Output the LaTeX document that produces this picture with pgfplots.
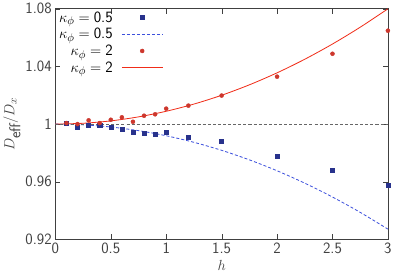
\documentclass[border=0pt]{standalone}
\usepackage{pgfplots}
\pgfplotsset{compat=1.18}
\renewcommand{\familydefault}{\sfdefault}
\definecolor{bluept}{RGB}{40,50,140}
\definecolor{blueln}{RGB}{60,80,220}
\definecolor{redpt}{RGB}{205,55,45}
\definecolor{redln}{RGB}{240,45,25}
\pgfplotsset{
  markleg/.style={legend image code/.code={\draw[##1] plot coordinates {(20bp,0bp)};}},
  blueleg/.style={legend image code/.code={\draw[blueln, densely dashed, thick] (0bp,0bp) -- (40bp,0bp);}},
  redleg/.style={legend image code/.code={\draw[redln, thick] (0bp,0bp) -- (40bp,0bp);}},
}
\begin{document}
\begin{tikzpicture}
\begin{axis}[
  scale only axis,
  width=326bp, height=226bp,
  xmin=0, xmax=3, ymin=0.92, ymax=1.08,
  xtick={0,0.5,1,1.5,2,2.5,3},
  ytick={0.92,0.96,1,1.04,1.08},
  tick align=inside,
  major tick length=5bp,
  axis line style={black!75, line width=0.8pt},
  tick style={black!75},
  /pgf/number format/assume math mode=true,
  ticklabel style={font=\fontsize{15.5}{18}\selectfont, text=black!75},
  label style={font=\fontsize{15.5}{18}\selectfont, text=black!75},
  xlabel={$h$},
  ylabel={$D_\textsf{eff}/D_x$},
  ylabel style={yshift=-2bp},
  legend style={draw=none, fill=none, at={(0.0,1.0)}, anchor=north west, font=\fontsize{15.5}{17}\selectfont, nodes={inner sep=0.5pt}, row sep=3.5pt, column sep=8bp},
  legend cell align=right,
  legend plot pos=right,
]
\addplot[bluept, only marks, mark=square*, mark size=2pt, markleg] coordinates {
(0.1,1.0007) (0.2,0.998) (0.3,0.9993) (0.4,0.999) (0.5,0.9977) (0.6,0.9967) (0.7,0.9944) (0.8,0.9937) (0.9,0.9928) (1.0,0.9946) (1.2,0.991) (1.5,0.988) (2.0,0.9778) (2.5,0.968) (3.0,0.9579)};
\addlegendentry{$\kappa_\phi = {}$0.5}
\addplot[color=blueln, densely dashed, thick, smooth, no marks, blueleg] coordinates {
(0,1) (0.25,0.99949) (0.5,0.99798) (0.75,0.99544) (1,0.9919) (1.25,0.98734) (1.5,0.98178) (1.75,0.97519) (2,0.9676) (2.25,0.95899) (2.5,0.94938) (2.75,0.93874) (3,0.9271)};
\addlegendentry{$\kappa_\phi = {}$0.5}
\addplot[redpt, only marks, mark=*, mark size=2pt, markleg] coordinates {
(0.1,1.0007) (0.2,1.0000) (0.3,1.0026) (0.4,1.0007) (0.5,1.003) (0.6,1.0047) (0.7,1.0016) (0.8,1.0058) (0.9,1.0068) (1.0,1.0107) (1.2,1.0128) (1.5,1.0198) (2.0,1.0329) (2.5,1.0488) (3.0,1.0648)};
\addlegendentry{$\kappa_\phi = {}$2}
\addplot[color=redln, thick, smooth, no marks, redleg] coordinates {
(0,1) (0.25,1.00056) (0.5,1.00222) (0.75,1.005) (1,1.00889) (1.25,1.01389) (1.5,1.02) (1.75,1.02723) (2,1.03556) (2.25,1.045) (2.5,1.05556) (2.75,1.06723) (3,1.08)};
\addlegendentry{$\kappa_\phi = {}$2}
\addplot[black!60, densely dashed, no marks, forget plot] coordinates {(0,1) (3,1)};
\end{axis}
\end{tikzpicture}
\end{document}
